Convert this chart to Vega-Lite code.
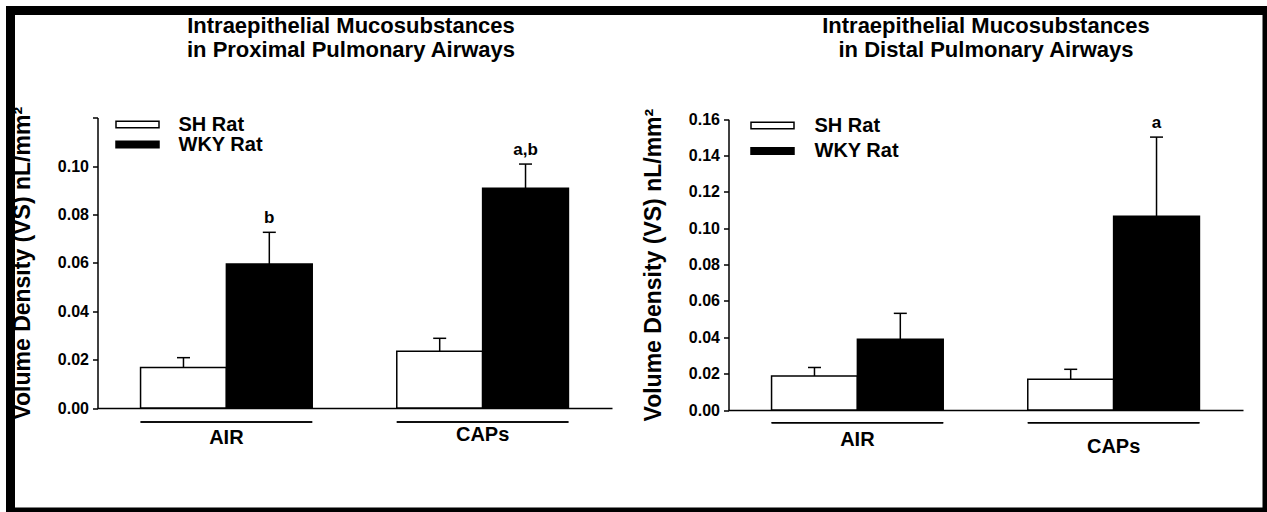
{
  "$schema": "https://vega.github.io/schema/vega-lite/v6.json",
  "width": 1256.5,
  "height": 501.5,
  "autosize": {"type": "none"},
  "padding": {"left": 10.5, "top": 10.5, "right": 0, "bottom": 0},
  "background": "white",
  "config": {
    "font": "Liberation Sans",
    "view": {"stroke": "black", "strokeWidth": 9},
    "axis": {
      "domainColor": "black", "domainWidth": 1.5,
      "tickColor": "black", "tickWidth": 1.5, "tickSize": 5,
      "labelColor": "black", "labelFontWeight": "bold", "labelFontSize": 16, "labelPadding": 4,
      "titleColor": "black", "titleFontWeight": "bold", "titleFontSize": 22,
      "grid": false
    },
    "legend": {
      "padding": 0, "title": null,
      "labelColor": "black", "labelFontWeight": "bold", "labelFontSize": 20,
      "symbolStrokeColor": "black", "symbolStrokeWidth": 1.5, "symbolOpacity": 1,
      "symbolType": "M-4.3,-0.65H4.3V0.65H-4.3Z", "symbolSize": 100
    }
  },
  "layer": [
    {
      "data": {"values": [
        {"group": "AIR", "rat": "SH Rat", "value": 0.0167, "upper": 0.0208, "sig": ""},
        {"group": "AIR", "rat": "WKY Rat", "value": 0.0595, "upper": 0.0726, "sig": "b"},
        {"group": "CAPs", "rat": "SH Rat", "value": 0.0234, "upper": 0.0288, "sig": ""},
        {"group": "CAPs", "rat": "WKY Rat", "value": 0.0908, "upper": 0.1008, "sig": "a,b"}
      ]},
      "encoding": {
        "x": {"field": "group", "type": "nominal",
          "scale": {"range": [86.5, 601.5], "paddingInner": 0.33, "paddingOuter": 0.17},
          "axis": {"orient": "bottom", "offset": -104, "ticks": false, "tickSize": 0, "labelAngle": 0,
            "labelPadding": {"condition": {"test": "datum.value == 'CAPs'", "value": 16}, "value": 19},
            "labelFontSize": 20,
            "title": ["Intraepithelial Mucosubstances", "in Proximal Pulmonary Airways"],
            "titleFontSize": 22, "titleLineHeight": 24, "titleBaseline": "top", "titleY": -393, "titleX": 340}},
        "y": {"type": "quantitative",
          "scale": {"domain": [0, 0.12], "range": [397.5, 107.1], "nice": false},
          "axis": {"orient": "left", "offset": -87, "values": [0, 0.02, 0.04, 0.06, 0.08, 0.1, 0.12],
            "labelExpr": "datum.value > 0.11 ? '' : format(datum.value, '.2f')",
            "title": "Volume Density (VS) nL/mm²", "titleFontSize": 23, "titlePadding": 23}}
      },
      "layer": [
        {
          "mark": {"type": "bar", "stroke": "black", "strokeWidth": 1.5, "opacity": 1},
          "encoding": {
            "xOffset": {"field": "rat", "type": "nominal"},
            "y": {"field": "value", "type": "quantitative"},
            "color": {"field": "rat", "type": "nominal",
              "scale": {"domain": ["SH Rat", "WKY Rat"], "range": ["white", "black"]},
              "legend": {"orient": "none", "legendX": 117, "legendY": 104, "rowPadding": -2.5, "labelOffset": 31}}
          }
        },
        {
          "mark": {"type": "rule", "color": "black", "strokeWidth": 1.5},
          "encoding": {
            "xOffset": {"field": "rat", "type": "nominal"},
            "y": {"field": "value", "type": "quantitative"},
            "y2": {"field": "upper"}
          }
        },
        {
          "mark": {"type": "tick", "orient": "horizontal", "size": 13, "thickness": 1.5, "color": "black", "opacity": 1},
          "encoding": {
            "xOffset": {"field": "rat", "type": "nominal"},
            "y": {"field": "upper", "type": "quantitative"}
          }
        },
        {
          "mark": {"type": "text", "fontWeight": "bold", "fontSize": 17, "baseline": "alphabetic", "dy": -9, "color": "black"},
          "encoding": {
            "xOffset": {"field": "rat", "type": "nominal"},
            "y": {"field": "upper", "type": "quantitative"},
            "text": {"field": "sig"}
          }
        },
        {
          "mark": {"type": "bar", "color": "black"},
          "encoding": {
            "y": {"datum": -0.0055, "type": "quantitative"},
            "y2": {"datum": -0.0061}
          }
        }
      ]
    },
    {
      "data": {"values": [
        {"group": "AIR", "rat": "SH Rat", "value": 0.0187, "upper": 0.0234, "sig": ""},
        {"group": "AIR", "rat": "WKY Rat", "value": 0.0389, "upper": 0.0532, "sig": ""},
        {"group": "CAPs", "rat": "SH Rat", "value": 0.0169, "upper": 0.0224, "sig": ""},
        {"group": "CAPs", "rat": "WKY Rat", "value": 0.1067, "upper": 0.1502, "sig": "a"}
      ]},
      "encoding": {
        "x": {"field": "group", "type": "nominal",
          "scale": {"range": [717.5, 1232.5], "paddingInner": 0.33, "paddingOuter": 0.17},
          "axis": {"orient": "bottom", "offset": -102, "ticks": false, "tickSize": 0, "labelAngle": 0,
            "labelPadding": {"condition": {"test": "datum.value == 'CAPs'", "value": 26}, "value": 19},
            "labelFontSize": 20,
            "title": ["Intraepithelial Mucosubstances", "in Distal Pulmonary Airways"],
            "titleFontSize": 22, "titleLineHeight": 24, "titleBaseline": "top", "titleY": -395, "titleX": 975}},
        "y": {"type": "quantitative",
          "scale": {"domain": [0, 0.16], "range": [399.5, 108.8], "nice": false},
          "axis": {"orient": "left", "offset": -718, "values": [0, 0.02, 0.04, 0.06, 0.08, 0.1, 0.12, 0.14, 0.16],
            "format": ".2f",
            "title": "Volume Density (VS) nL/mm²", "titleFontSize": 23, "titlePadding": 23}}
      },
      "layer": [
        {
          "mark": {"type": "bar", "stroke": "black", "strokeWidth": 1.5, "opacity": 1},
          "encoding": {
            "xOffset": {"field": "rat", "type": "nominal"},
            "y": {"field": "value", "type": "quantitative"},
            "color": {"field": "rat", "type": "nominal",
              "scale": {"domain": ["SH Rat", "WKY Rat"], "range": ["white", "black"]},
              "legend": {"orient": "none", "legendX": 752, "legendY": 105, "rowPadding": 5.5, "labelOffset": 32}}
          }
        },
        {
          "mark": {"type": "rule", "color": "black", "strokeWidth": 1.5},
          "encoding": {
            "xOffset": {"field": "rat", "type": "nominal"},
            "y": {"field": "value", "type": "quantitative"},
            "y2": {"field": "upper"}
          }
        },
        {
          "mark": {"type": "tick", "orient": "horizontal", "size": 13, "thickness": 1.5, "color": "black", "opacity": 1},
          "encoding": {
            "xOffset": {"field": "rat", "type": "nominal"},
            "y": {"field": "upper", "type": "quantitative"}
          }
        },
        {
          "mark": {"type": "text", "fontWeight": "bold", "fontSize": 17, "baseline": "alphabetic", "dy": -9, "color": "black"},
          "encoding": {
            "xOffset": {"field": "rat", "type": "nominal"},
            "y": {"field": "upper", "type": "quantitative"},
            "text": {"field": "sig"}
          }
        },
        {
          "mark": {"type": "bar", "color": "black"},
          "encoding": {
            "y": {"datum": -0.0066, "type": "quantitative"},
            "y2": {"datum": -0.0074}
          }
        }
      ]
    }
  ],
  "resolve": {
    "scale": {"x": "independent", "y": "independent", "xOffset": "independent", "color": "independent"},
    "axis": {"x": "independent", "y": "independent"},
    "legend": {"color": "independent"}
  }
}
